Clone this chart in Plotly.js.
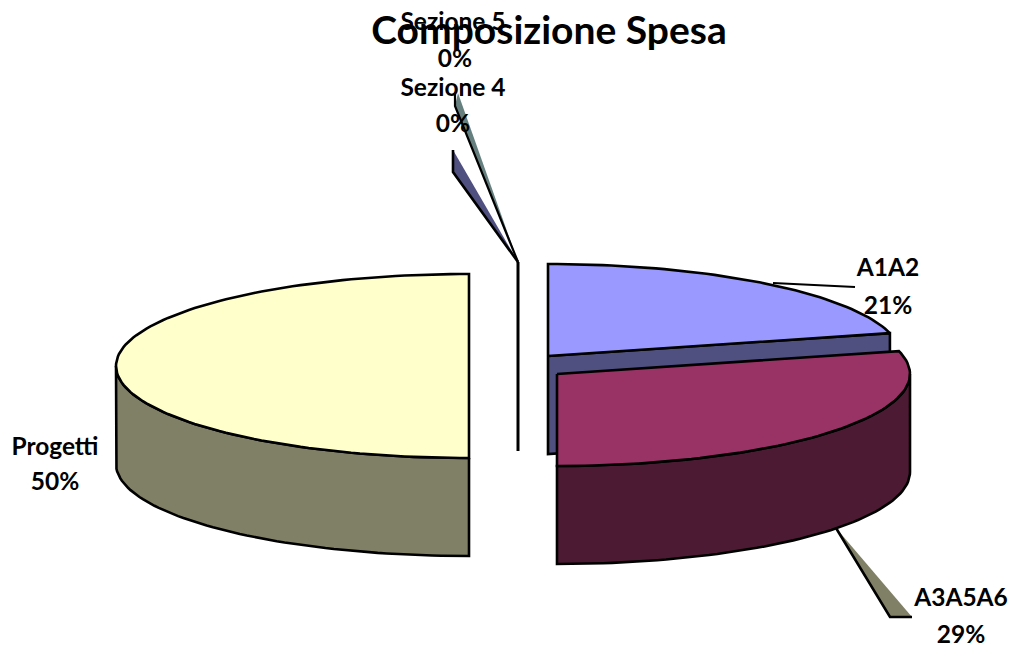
<!DOCTYPE html>
<html><head><meta charset="utf-8">
<script src="https://cdn.plot.ly/plotly-3.0.1.min.js"></script>
<style>html,body{margin:0;padding:0;background:#fff}#c{width:1009px;height:645px}</style>
</head><body><div id="c"></div>
<script>
const categories = ["A1A2","A3A5A6","Progetti","Sezione 4","Sezione 5"];
const percents = [21,29,50,0,0];
const topColors = ["#9999FF","#993366","#FFFFCC","#9999FF","#99CCCC"];
const sideColors = ["#4F4F80","#4D1A33","#808066","#4F4F80","#668080"];
const explodedCentres = [[548,356],[557,374],[469,366]];
const labelNameXY = [[888,270],[961,600],[55,449],[453,90],[453,24]];
const labelPctXY = [[888,308],[961,637],[55,484],[453,126],[455,61]];
const RX=353, RY=92, DEPTH=98;
const FONT="Lato, 'Open Sans', sans-serif";
const EDGE=2.6;

function rim(c,deg,dy){const a=deg*Math.PI/180;return [c[0]+RX*Math.sin(a),c[1]-RY*Math.cos(a)+(dy||0)];}
function arc(c,a0,a1,dy){const n=Math.max(2,Math.ceil(Math.abs(a1-a0)/1.5));const out=[];for(let i=0;i<=n;i++)out.push(rim(c,a0+(a1-a0)*i/n,dy));return out;}
function poly(pts,fill,w){return {type:"scatter",mode:"lines",x:pts.map(p=>p[0]),y:pts.map(p=>p[1]),fill:"toself",fillcolor:fill,line:{color:"#000",width:w===undefined?EDGE:w,shape:"linear"},hoverinfo:"skip",showlegend:false};}
function line(pts,w){return {type:"scatter",mode:"lines",x:pts.map(p=>p[0]),y:pts.map(p=>p[1]),line:{color:"#000",width:w||EDGE},hoverinfo:"skip",showlegend:false};}
function wedge(pts,fill){const t=poly(pts,fill,0);t.line={width:0,color:fill};return t;}

let start=[];let acc=0;percents.forEach(p=>{start.push(acc*3.6);acc+=p;});
const traces=[];
// Progetti (back-left half)
{const i=2,c=explodedCentres[i],a0=start[i],a1=a0+percents[i]*3.6;
 traces.push(poly([...arc(c,a0,270,0),...arc(c,270,a0,DEPTH),rim(c,a0)],sideColors[i]));
 traces.push(poly([c,...arc(c,a0,a1),c],topColors[i]));}
// A1A2
{const i=0,c=explodedCentres[i],a0=start[i],a1=a0+percents[i]*3.6;
 const r=rim(c,a1);
 traces.push(poly([c,r,[r[0],r[1]+DEPTH],[c[0],c[1]+DEPTH],c],sideColors[i]));
 traces.push(poly([c,...arc(c,a0,a1),c],topColors[i]));}
// A3A5A6
{const i=1,c=explodedCentres[i],a0=start[i],a1=a0+percents[i]*3.6;
 traces.push(poly([...arc(c,90,a1,0),...arc(c,a1,90,DEPTH),rim(c,90)],sideColors[i]));
 traces.push(poly([c,...arc(c,a0,a1),c],topColors[i]));}
// zero-size slices: edge-on line and leader wedges
const zeroApex=[518,262];
traces.push(line([zeroApex,[zeroApex[0],zeroApex[1]+189]],3));
traces.push(wedge([[453,150],[453,172],zeroApex],sideColors[3]));
traces.push(line([[453,150],[453,172],zeroApex]));
traces.push(wedge([[458,93],[455,106],zeroApex],sideColors[4]));
traces.push(line([[455,93],[455,106],zeroApex],2.2));
// leaders for A1A2 and A3A5A6
traces.push(line([[773,283],[855,287]],2));
traces.push(wedge([[836,528],[890,617],[912,617]],sideColors[2]));
traces.push(line([[836,528],[890,617],[912,617]]));
// labels
traces.push({type:"scatter",mode:"text",x:labelNameXY.map(p=>p[0]),y:labelNameXY.map(p=>p[1]),text:categories.map(s=>"<b>"+s+"</b>"),textposition:"middle center",textfont:{family:FONT,size:24.5,color:"#000"},hoverinfo:"skip",showlegend:false,cliponaxis:false});
traces.push({type:"scatter",mode:"text",x:labelPctXY.map(p=>p[0]),y:labelPctXY.map(p=>p[1]),text:percents.map(v=>"<b>"+v+"%</b>"),textposition:"middle center",textfont:{family:FONT,size:24.5,color:"#000"},hoverinfo:"skip",showlegend:false,cliponaxis:false});

const layout={width:1009,height:645,margin:{l:0,r:0,t:0,b:0},paper_bgcolor:"#fff",plot_bgcolor:"#fff",showlegend:false,
 title:{text:"<b>Composizione Spesa</b>",font:{family:FONT,size:39,color:"#000"},x:549/1009,xanchor:"center",xref:"paper",y:1-30/645,yanchor:"middle",yref:"container"},
 xaxis:{range:[0,1009],visible:false,fixedrange:true},
 yaxis:{range:[645,0],visible:false,fixedrange:true}};
Plotly.newPlot("c",traces,layout,{displayModeBar:false,staticPlot:true});
</script></body></html>
